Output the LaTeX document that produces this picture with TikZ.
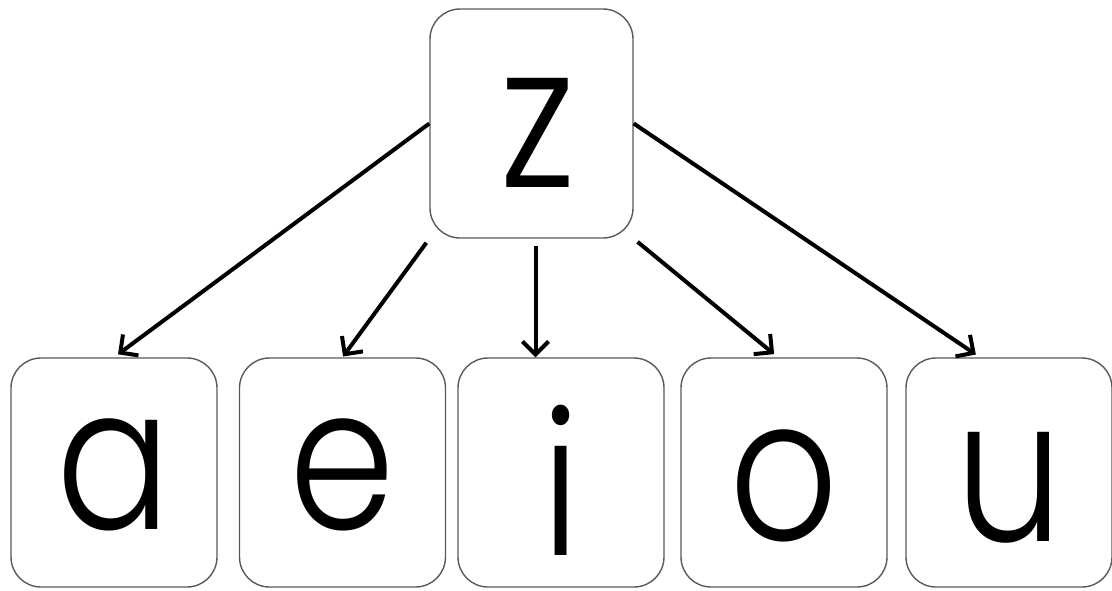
\documentclass[tikz,border=0pt]{standalone}
\usepackage{fontspec}
\setmainfont{Poppins Light}[FakeStretch=0.85]
\usetikzlibrary{arrows.meta}

\begin{document}
\begin{tikzpicture}[x=1pt, y=-1pt,
  letterbox/.style={draw=black!65, line width=1.4pt, rounded corners=30pt,
    minimum width=206pt, minimum height=229pt, inner sep=0pt,
    font=\fontsize{200}{200}\selectfont, text height=113pt, text depth=0pt},
  pointer/.style={line width=4pt, -{Straight Barb[length=13pt,width=26pt]}}]

  % Page frame
  \useasboundingbox (0,0) rectangle (1112,590);

  % Top letter
  \node[letterbox, minimum width=203pt] (z) at (531.5,123.5) {\raisebox{-7pt}{\hspace{12pt}z}};

  % Row of vowels
  \node[letterbox] (a) at (114,472.5) {a};
  \node[letterbox] (e) at (342.5,472.5) {e};
  \node[letterbox] (i) at (561,472.5) {\raisebox{-26pt}{i}};
  \node[letterbox] (o) at (784,472.5) {\raisebox{-11pt}{o}};
  \node[letterbox] (u) at (1009,472.5) {\raisebox{-12pt}{u}};

  % Arrows from z down to each vowel
  \draw[pointer, shorten >=5pt] (z.west) -- (a.north);
  \draw[pointer, shorten <=5pt, shorten >=1pt] (z.south west) -- (e.north);
  \draw[pointer, shorten <=7pt] ([xshift=4pt]z.south) -- ([xshift=4pt]z.south |- i.north);
  \draw[pointer, shorten <=5pt, shorten >=5pt] (z.south east) -- ([xshift=-6pt]o.north);
  \draw[pointer, shorten >=5pt] (z.east) -- ([xshift=-29pt]u.north);

\end{tikzpicture}
\end{document}
